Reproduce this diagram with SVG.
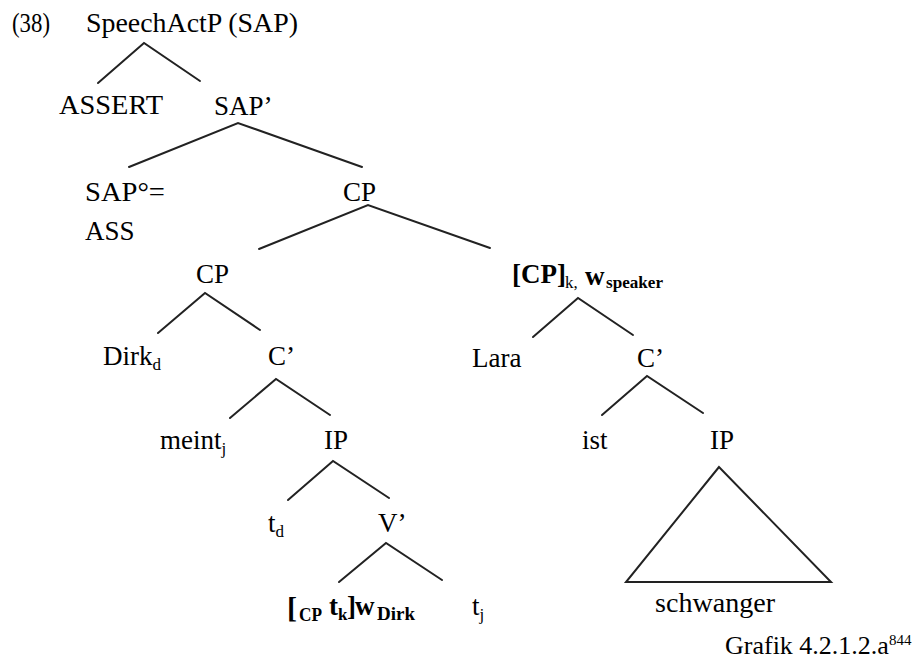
<svg xmlns="http://www.w3.org/2000/svg" width="920" height="661" viewBox="0 0 920 661">
  <style>
    text { font-family: "Liberation Serif", Tinos, "Times New Roman", Times, "Nimbus Roman", "Nimbus Roman No9 L", "Noto Serif", "DejaVu Serif", FreeSerif, serif; font-size: 27px; fill: #000; }
    .b { font-weight: bold; }
    .sub { font-size: 17px; }
    .cap { font-size: 26px; }
    .sup { font-size: 15px; }
    .edge { stroke: #222; stroke-width: 2; fill: none; stroke-linecap: round; }
  </style>
  <rect width="920" height="661" fill="#fff"/>

  <!-- branches -->
  <g id="connectors">
    <polyline class="edge" points="98,83 144,43 200,81"/>
    <polyline class="edge" points="129,167 238,123 362,167"/>
    <polyline class="edge" points="259,249 368,205 490,248"/>
    <polyline class="edge" points="158,333 205,293 260,330"/>
    <polyline class="edge" points="533,337 578,298 633,335"/>
    <polyline class="edge" points="230,418 276,379 330,415"/>
    <polyline class="edge" points="602,415 647,376 703,413"/>
    <polyline class="edge" points="288,500 333,461 389,498"/>
    <polyline class="edge" points="339,582 386,543 442,580"/>
    <polygon class="edge" points="719,467 626,582 831,582" stroke-linejoin="miter"/>
  </g>

  <g id="label-38"><text x="12" y="32" textLength="38" lengthAdjust="spacingAndGlyphs">(38)</text></g>
  <g id="n-sap-root"><text x="86" y="32" textLength="212" lengthAdjust="spacingAndGlyphs">SpeechActP (SAP)</text></g>
  <g id="n-assert"><text x="59" y="114" textLength="104" lengthAdjust="spacingAndGlyphs">ASSERT</text></g>
  <g id="n-sap-bar"><text x="214" y="115">SAP’</text></g>
  <g id="n-sap-head">
    <text x="85" y="201" textLength="80" lengthAdjust="spacingAndGlyphs">SAP°=</text>
    <text x="85" y="240">ASS</text>
  </g>
  <g id="n-cp-top"><text x="343" y="201">CP</text></g>
  <g id="n-cp-left"><text x="196" y="283">CP</text></g>
  <g id="n-cp-right">
    <text class="b" y="283"><tspan x="512">[CP]</tspan><tspan x="565" y="288" class="sub" font-weight="normal">k,</tspan><tspan x="585" y="285" class="b">w</tspan><tspan x="606" y="288" class="sub b" textLength="57" lengthAdjust="spacingAndGlyphs">speaker</tspan></text>
  </g>
  <g id="n-dirk"><text x="103" y="365">Dirk<tspan class="sub" y="370">d</tspan></text></g>
  <g id="n-cbar-left"><text x="268" y="365">C’</text></g>
  <g id="n-lara"><text x="472" y="367">Lara</text></g>
  <g id="n-cbar-right"><text x="637" y="367">C’</text></g>
  <g id="n-meint"><text x="160" y="449">meint<tspan class="sub" y="454">j</tspan></text></g>
  <g id="n-ip-left"><text x="324" y="449">IP</text></g>
  <g id="n-ist"><text x="582" y="449">ist</text></g>
  <g id="n-ip-right"><text x="710" y="449">IP</text></g>
  <g id="n-td"><text x="268" y="532">t<tspan class="sub" y="537">d</tspan></text></g>
  <g id="n-vbar"><text x="378" y="532">V’</text></g>
  <g id="n-cp-trace">
    <text class="b" y="615"><tspan x="287" font-size="30" y="618">[</tspan><tspan x="299" y="621" font-size="19" textLength="23" lengthAdjust="spacingAndGlyphs">CP</tspan><tspan x="329" y="615">t</tspan><tspan x="338" y="620" class="sub">k</tspan><tspan x="347" y="615">]</tspan><tspan x="355" y="615">w</tspan><tspan x="377" y="620" font-size="19" textLength="38" lengthAdjust="spacingAndGlyphs">Dirk</tspan></text>
  </g>
  <g id="n-tj"><text x="472" y="615">t<tspan class="sub" y="620">j</tspan></text></g>
  <g id="n-schwanger"><text x="655" y="612" textLength="120" lengthAdjust="spacingAndGlyphs">schwanger</text></g>

  <g id="caption"><text class="cap" x="725" y="654">Grafik 4.2.1.2.a<tspan class="sup" y="645">844</tspan></text></g>
</svg>
